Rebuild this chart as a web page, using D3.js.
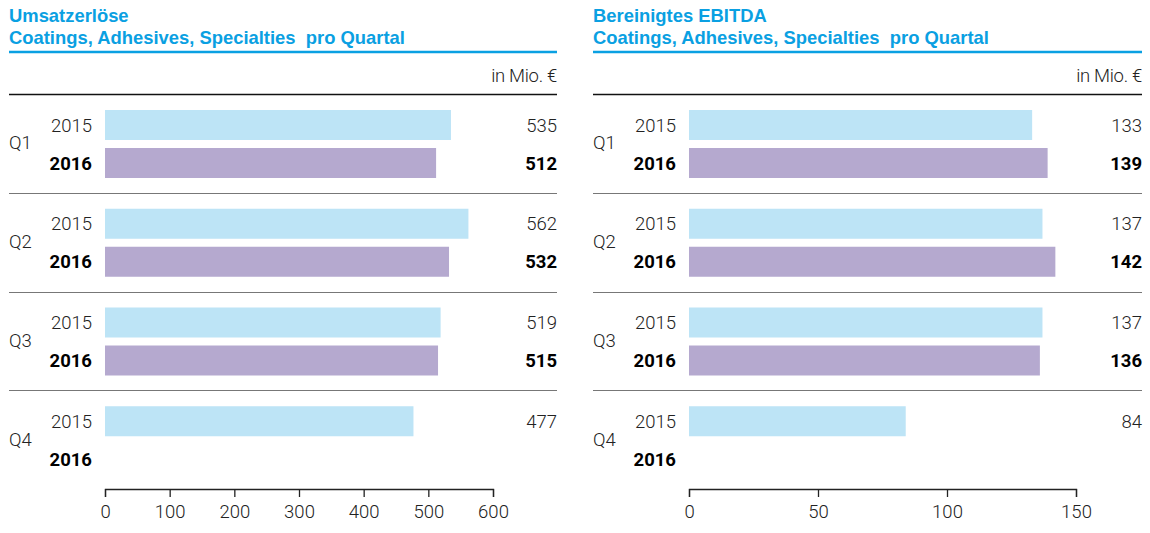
<!DOCTYPE html>
<html>
<head>
<meta charset="utf-8">
<script src="https://cdn.jsdelivr.net/npm/d3@7"></script>
<style>
  body { margin: 0; background: #fff; }
  svg { display: block; font-family: Roboto, "Liberation Sans", sans-serif; }
</style>
</head>
<body>
<svg id="chart" width="1150" height="533"></svg>
<script>
// values
var quarters = ["Q1", "Q2", "Q3", "Q4"];
var years = ["2015", "2016"];
var sales2015 = [535, 562, 519, 477];
var sales2016 = [512, 532, 515, null];
var ebitda2015 = [133, 137, 137, 84];
var ebitda2016 = [139, 142, 136, null];
var salesTicks = [0, 100, 200, 300, 400, 500, 600];
var ebitdaTicks = [0, 50, 100, 150];
var unitLabel = "in Mio. €";

var svg = d3.select("#chart");
var fs = 18.5;

drawPanel({
    left: 9, right: 557, barStart: 105, barEnd: 493,
    title: ["Umsatzerlöse", "Coatings, Adhesives, Specialties  pro Quartal"],
    v2015: sales2015, v2016: sales2016, ticks: salesTicks
});
drawPanel({
    left: 593, right: 1142, barStart: 689, barEnd: 1076,
    title: ["Bereinigtes EBITDA", "Coatings, Adhesives, Specialties  pro Quartal"],
    v2015: ebitda2015, v2016: ebitda2016, ticks: ebitdaTicks
});

function drawPanel(p) {
    var g = svg.append("g");

    // title
    g.selectAll("text.title")
        .data(p.title)
        .enter().append("text")
        .attr("class", "title")
        .attr("x", p.left)
        .attr("y", function(d, i) { return 22 + i * 22; })
        .attr("fill", "#0aa0e2")
        .attr("font-family", "'Liberation Sans', Arial, sans-serif")
        .attr("font-weight", 700)
        .attr("font-size", 18.4)
        .style("white-space", "pre")
        .text(function(d) { return d; });

    g.append("line")
        .attr("x1", p.left).attr("x2", p.right)
        .attr("y1", 52).attr("y2", 52)
        .attr("stroke", "#0aa0e2").attr("stroke-width", 2.5);

    g.append("text")
        .attr("x", p.right).attr("y", 82)
        .attr("text-anchor", "end")
        .attr("font-size", fs).attr("font-weight", 300)
        .attr("fill", "#222")
        .attr("letter-spacing", -0.3)
        .text(unitLabel);

    var x = d3.scaleLinear()
        .domain([p.ticks[0], p.ticks[p.ticks.length - 1]])
        .range([p.barStart, p.barEnd]);

    var y = d3.scaleBand().domain(quarters).range([94, 489]);
    var yy = d3.scaleBand().domain(years).range([16, 84]).paddingInner(8 / 38);

    var rows = [];
    quarters.forEach(function(q, i) {
        rows.push({ q: q, year: "2015", value: p.v2015[i] });
        rows.push({ q: q, year: "2016", value: p.v2016[i] });
    });

    // separators
    g.selectAll("line.sep")
        .data(quarters)
        .enter().append("line")
        .attr("class", "sep")
        .attr("x1", p.left).attr("x2", p.right)
        .attr("y1", function(d) { return Math.round(y(d)) + 0.5; })
        .attr("y2", function(d) { return Math.round(y(d)) + 0.5; })
        .attr("stroke", function(d, i) { return i == 0 ? "#111" : "#777"; })
        .attr("stroke-width", function(d, i) { return i == 0 ? 1.5 : 1.2; });

    // quarter labels
    g.selectAll("text.q")
        .data(quarters)
        .enter().append("text")
        .attr("class", "q")
        .attr("x", p.left)
        .attr("y", function(d) { return y(d) + y.bandwidth() / 2 + 6; })
        .attr("font-size", fs).attr("font-weight", 300)
        .attr("fill", "#222")
        .text(function(d) { return d; });

    // year labels
    g.selectAll("text.yr")
        .data(rows)
        .enter().append("text")
        .attr("class", "yr")
        .attr("x", p.barStart - 13)
        .attr("y", function(d) { return y(d.q) + yy(d.year) + yy.bandwidth() / 2 + 6.5; })
        .attr("text-anchor", "end")
        .attr("font-size", fs)
        .attr("font-weight", function(d) { return d.year == "2016" ? 700 : 300; })
        .attr("fill", function(d) { return d.year == "2016" ? "#000" : "#222"; })
        .text(function(d) { return d.year; });

    var present = rows.filter(function(d) { return d.value != null; });

    g.selectAll("rect.bar")
        .data(present)
        .enter().append("rect")
        .attr("class", "bar")
        .attr("x", x(0))
        .attr("y", function(d) { return y(d.q) + yy(d.year); })
        .attr("width", function(d) { return x(d.value) - x(0); })
        .attr("height", yy.bandwidth())
        .attr("fill", function(d) { return d.year == "2016" ? "#b5a9cf" : "#bde4f6"; });

    g.selectAll("text.val")
        .data(present)
        .enter().append("text")
        .attr("class", "val")
        .attr("x", p.right)
        .attr("y", function(d) { return y(d.q) + yy(d.year) + yy.bandwidth() / 2 + 6.5; })
        .attr("text-anchor", "end")
        .attr("font-size", fs)
        .attr("font-weight", function(d) { return d.year == "2016" ? 700 : 300; })
        .attr("fill", function(d) { return d.year == "2016" ? "#000" : "#222"; })
        .text(function(d) { return d.value; });

    // axis
    var axis = g.append("g")
        .attr("transform", "translate(0,489)")
        .call(d3.axisBottom(x).tickValues(p.ticks).tickSize(8).tickPadding(8));
    axis.select(".domain").attr("stroke", "#222").attr("stroke-width", 1.3);
    axis.selectAll(".tick line").attr("stroke", "#222").attr("stroke-width", 1.3);
    axis.selectAll(".tick text")
        .attr("font-size", fs)
        .attr("font-weight", 300)
        .attr("fill", "#222")
        .attr("font-family", "Roboto, sans-serif");
}
</script>
</body>
</html>
